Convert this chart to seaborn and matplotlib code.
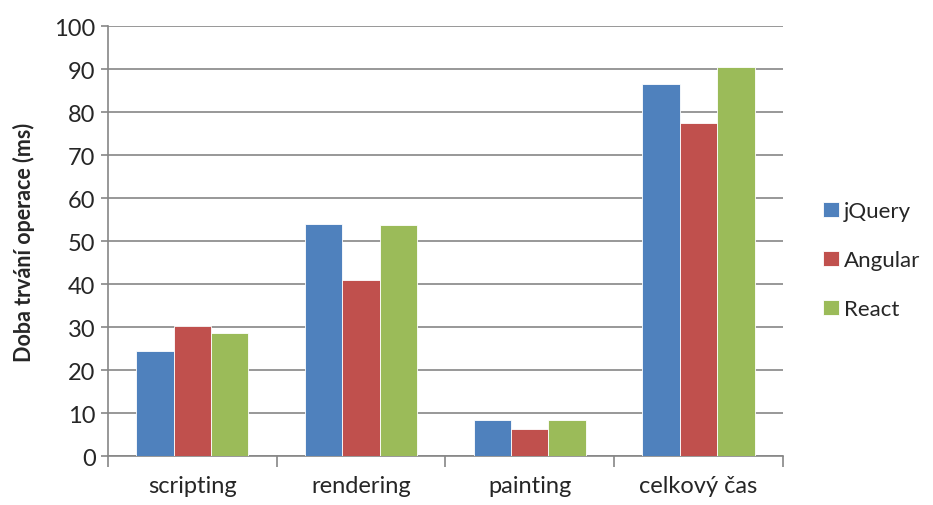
import pandas as pd
import numpy as np
import seaborn as sns
import matplotlib.pyplot as plt

categories = ["scripting", "rendering", "painting", "celkový čas"]
frameworks = ["jQuery", "Angular", "React"]
jquery = [24.4, 54.0, 8.4, 86.6]
angular = [30.3, 41.0, 6.2, 77.5]
react = [28.6, 53.7, 8.4, 90.5]
colors = ["#4F81BD", "#C0504D", "#9BBB59"]

df = pd.DataFrame({
    "kategorie": categories * 3,
    "framework": np.repeat(frameworks, len(categories)),
    "ms": jquery + angular + react,
})

sns.set_style("white")
plt.rcParams['font.family'] = ['Lato', 'DejaVu Sans']

fig = plt.figure(figsize=(9.33, 5.06), dpi=100)
ax = fig.add_axes([0.1158, 0.0968, 0.7232, 0.8498])

sns.barplot(data=df, x="kategorie", y="ms", hue="framework", order=categories,
            hue_order=frameworks, palette=colors, width=0.665, saturation=1,
            edgecolor="white", linewidth=0.6, ax=ax, zorder=3)

ax.set_ylim(0, 100)
ax.set_xlim(-0.5, 3.5)
ax.set_yticks(np.arange(0, 101, 10))
ax.yaxis.grid(True, color="#868686", linewidth=1.2, zorder=0)
ax.set_axisbelow(True)
for s in ["top", "right"]:
    ax.spines[s].set_visible(False)
for s in ["left", "bottom"]:
    ax.spines[s].set_color("#868686")
    ax.spines[s].set_linewidth(1.2)

ax.tick_params(axis="y", left=True, length=5, color="#868686", width=1.2,
               labelsize=17, pad=4)
ax.tick_params(axis="x", which="major", bottom=False, labelsize=17, pad=10)
ax.set_xticks(np.arange(-0.5, 4, 1), minor=True)
ax.tick_params(axis="x", which="minor", bottom=True, length=8, color="#868686", width=1.2)

ax.set_xlabel("")
ax.set_ylabel("Doba trvání operace (ms)", fontsize=15.5, fontweight="bold", labelpad=14)

ax.legend(title=None, frameon=False, loc="center left", bbox_to_anchor=(1.03, 0.455),
          fontsize=16, handlelength=0.7, handleheight=0.7, labelspacing=1.3,
          handletextpad=0.25)

plt.savefig("out.png", dpi=100)
